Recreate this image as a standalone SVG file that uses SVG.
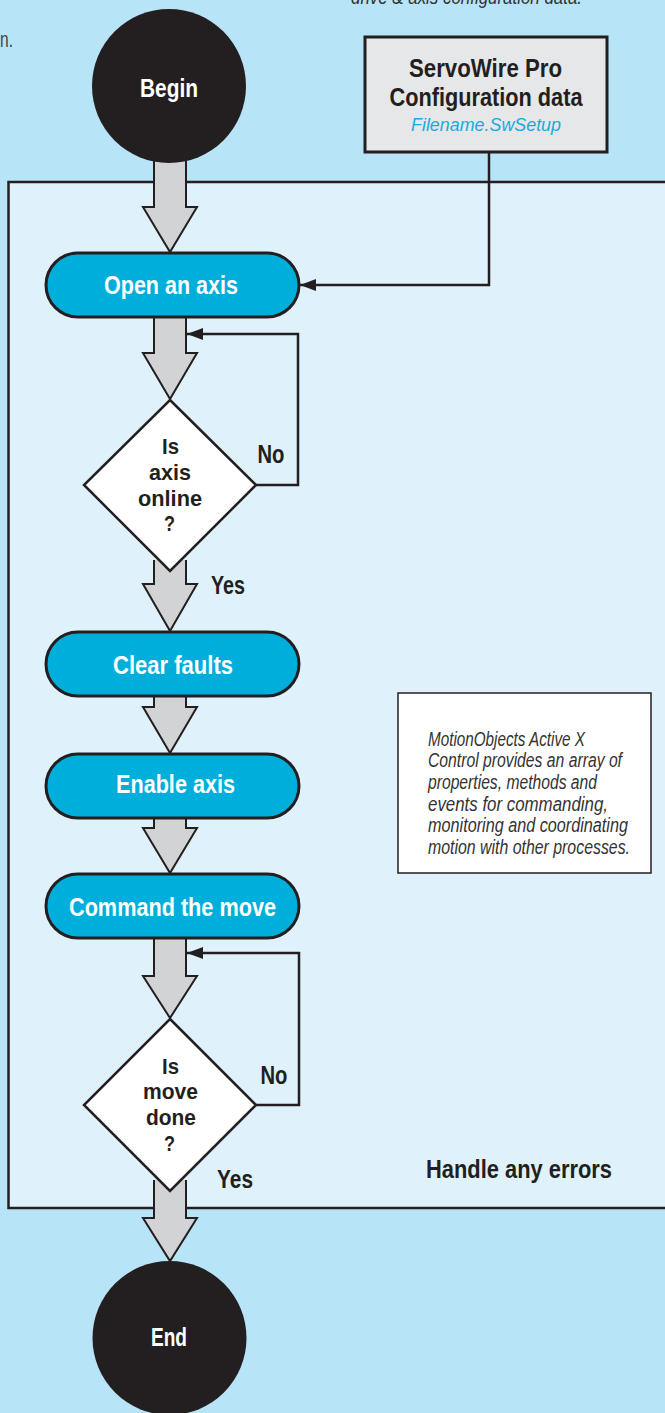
<svg xmlns="http://www.w3.org/2000/svg" width="665" height="1413" viewBox="0 0 665 1413">
<style>
.bold{font-family:"Liberation Sans Narrow","Liberation Sans",Arial,sans-serif;font-weight:bold;fill:#231f20;text-anchor:middle}
.w{fill:#ffffff}
.lbl{font-size:26px}
.dtxt{font-size:22px}
.note{font-family:"Liberation Sans Narrow","Liberation Sans",Arial,sans-serif;font-style:italic;font-size:20px;fill:#333333}
.fat{fill:#d1d3d4;stroke:#231f20;stroke-width:2;stroke-linejoin:miter}
.proc{fill:#00aedb;stroke:#231f20;stroke-width:3}
.dia{fill:#ffffff;stroke:#231f20;stroke-width:2.5}
.term{fill:#231f20}
.line{fill:none;stroke:#231f20;stroke-width:2.5}
</style>
<defs>
<marker id="ah" markerWidth="16" markerHeight="12" refX="16" refY="6" orient="auto" markerUnits="userSpaceOnUse">
<path d="M0,0 L16,6 L0,12 Z" fill="#231f20"/>
</marker>
</defs>
<rect x="0" y="0" width="665" height="1413" fill="#b8e4f8"/>
<text class="note" x="351" y="4" font-size="18" textLength="231" lengthAdjust="spacingAndGlyphs">drive &amp; axis configuration data.</text>
<text x="0" y="47" font-family="Liberation Sans, Arial, sans-serif" font-size="22" fill="#444444" textLength="13" lengthAdjust="spacingAndGlyphs">n.</text>
<g id="panel">
<rect x="8.5" y="182" width="670" height="1026" fill="#dff2fc" stroke="#231f20" stroke-width="2.5"/>
</g>
<g id="connectors">
<path class="fat" d="M154,150 V207 H143 L170,252 L197,207 H186 V150"/>
<path class="fat" d="M154,310 V353 H143 L170,399 L197,353 H186 V310"/>
<path class="fat" d="M154,560 V584 H143 L170,631 L197,584 H186 V560"/>
<path class="fat" d="M154,690 V707 H143 L170,753 L197,707 H186 V690"/>
<path class="fat" d="M154,812 V828 H143 L170,873 L197,828 H186 V812"/>
<path class="fat" d="M154,930 V976 H143 L170,1018 L197,976 H186 V930"/>
<path class="fat" d="M154,1180 V1218 H143 L170,1261 L197,1218 H186 V1180"/>
<path class="line" d="M489,152 V285 H300" marker-end="url(#ah)"/>
<path class="line" d="M256,485 H298 V334 H187" marker-end="url(#ah)"/>
<path class="line" d="M256,1105 H299 V953 H187" marker-end="url(#ah)"/>
<text class="bold lbl" x="271" y="463" textLength="27" lengthAdjust="spacingAndGlyphs">No</text>
<text class="bold lbl" x="228" y="594" textLength="34" lengthAdjust="spacingAndGlyphs">Yes</text>
<text class="bold lbl" x="274" y="1084" textLength="27" lengthAdjust="spacingAndGlyphs">No</text>
<text class="bold lbl" x="235" y="1188" textLength="36" lengthAdjust="spacingAndGlyphs">Yes</text>
</g>
<g id="begin">
<circle class="term" cx="169" cy="86" r="77"/>
<text class="bold lbl w" x="169" y="97" textLength="58" lengthAdjust="spacingAndGlyphs">Begin</text>
</g>
<g id="config">
<rect x="365" y="37" width="242" height="115" fill="#e6e7e8" stroke="#231f20" stroke-width="3"/>
<text class="bold lbl" x="485.5" y="77" textLength="153" lengthAdjust="spacingAndGlyphs">ServoWire Pro</text>
<text class="bold lbl" x="486" y="106" textLength="193" lengthAdjust="spacingAndGlyphs">Configuration data</text>
<text x="486" y="131" font-family="Liberation Sans Narrow, Liberation Sans, Arial, sans-serif" font-style="italic" font-size="19" fill="#1ba9e0" text-anchor="middle" textLength="150" lengthAdjust="spacingAndGlyphs">Filename.SwSetup</text>
</g>
<g id="open">
<rect class="proc" x="46" y="253" width="253" height="64" rx="32"/>
<text class="bold lbl w" x="171" y="294" textLength="134" lengthAdjust="spacingAndGlyphs">Open an axis</text>
</g>
<g id="online">
<polygon class="dia" points="170,400 256,485 170,571 84,485"/>
<text class="bold dtxt" x="170.5" y="454" textLength="17" lengthAdjust="spacingAndGlyphs">Is</text>
<text class="bold dtxt" x="170" y="480" textLength="42" lengthAdjust="spacingAndGlyphs">axis</text>
<text class="bold dtxt" x="170" y="506" textLength="64" lengthAdjust="spacingAndGlyphs">online</text>
<text class="bold dtxt" x="169.5" y="531" textLength="11" lengthAdjust="spacingAndGlyphs">?</text>
</g>
<g id="clear">
<rect class="proc" x="46" y="632" width="253" height="64" rx="32"/>
<text class="bold lbl w" x="173" y="674" textLength="120" lengthAdjust="spacingAndGlyphs">Clear faults</text>
</g>
<g id="enable">
<rect class="proc" x="46" y="754" width="253" height="64" rx="32"/>
<text class="bold lbl w" x="175.5" y="793" textLength="119" lengthAdjust="spacingAndGlyphs">Enable axis</text>
</g>
<g id="command">
<rect class="proc" x="46" y="874" width="253" height="64" rx="32"/>
<text class="bold lbl w" x="172.5" y="916" textLength="207" lengthAdjust="spacingAndGlyphs">Command the move</text>
</g>
<g id="done">
<polygon class="dia" points="170,1019 256,1105 170,1191 84,1105"/>
<text class="bold dtxt" x="170.5" y="1074" textLength="17" lengthAdjust="spacingAndGlyphs">Is</text>
<text class="bold dtxt" x="170.5" y="1099" textLength="55" lengthAdjust="spacingAndGlyphs">move</text>
<text class="bold dtxt" x="171" y="1125" textLength="50" lengthAdjust="spacingAndGlyphs">done</text>
<text class="bold dtxt" x="169.5" y="1151" textLength="11" lengthAdjust="spacingAndGlyphs">?</text>
</g>
<g id="note">
<rect x="398" y="693" width="253" height="180" fill="#ffffff" stroke="#231f20" stroke-width="1.5"/>
<text class="note" x="428" y="746" textLength="157" lengthAdjust="spacingAndGlyphs">MotionObjects Active X</text>
<text class="note" x="428" y="767" textLength="194" lengthAdjust="spacingAndGlyphs">Control provides an array of</text>
<text class="note" x="428" y="789" textLength="169" lengthAdjust="spacingAndGlyphs">properties, methods and</text>
<text class="note" x="428" y="811" textLength="180" lengthAdjust="spacingAndGlyphs">events for commanding,</text>
<text class="note" x="428" y="832" textLength="200" lengthAdjust="spacingAndGlyphs">monitoring and coordinating</text>
<text class="note" x="428" y="854" textLength="202" lengthAdjust="spacingAndGlyphs">motion with other processes.</text>
</g>
<g id="errors">
<text class="bold lbl" x="519" y="1178" textLength="186" lengthAdjust="spacingAndGlyphs">Handle any errors</text>
</g>
<g id="end">
<circle class="term" cx="169.5" cy="1338" r="77"/>
<text class="bold lbl w" x="169" y="1346" textLength="36" lengthAdjust="spacingAndGlyphs">End</text>
</g>
</svg>
